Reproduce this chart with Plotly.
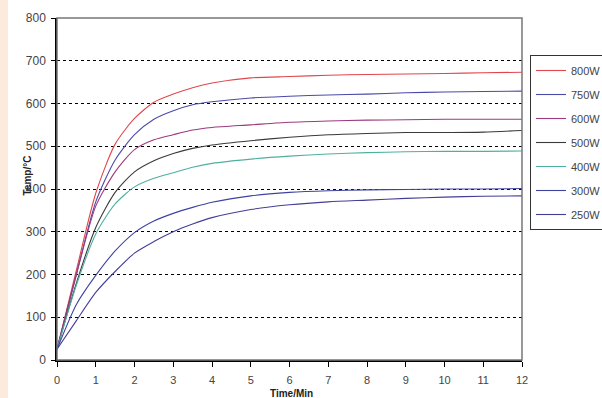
import plotly.graph_objects as go

# время, мин
time_min = [0, 0.5, 1, 1.5, 2, 2.5, 3, 3.5, 4, 5, 6, 7, 8, 9, 10, 11, 12]

# температура по мощности, °C
temp_800 = [25, 210, 390, 505, 565, 603, 622, 637, 648, 660, 663, 666, 668, 669, 670, 672, 673]
temp_750 = [25, 200, 370, 468, 527, 563, 583, 597, 604, 613, 617, 620, 622, 625, 627, 628, 629]
temp_600 = [25, 200, 360, 440, 492, 515, 527, 538, 544, 550, 556, 559, 561, 562, 563, 563, 563]
temp_500 = [25, 180, 310, 392, 440, 466, 483, 495, 503, 513, 521, 527, 530, 532, 532, 533, 537]
temp_400 = [25, 175, 295, 365, 405, 425, 438, 451, 460, 470, 477, 482, 485, 487, 488, 488, 489]
temp_300 = [25, 130, 198, 255, 298, 325, 343, 357, 369, 384, 392, 396, 398, 399, 400, 400, 401]
temp_250 = [25, 92, 158, 207, 250, 277, 300, 318, 333, 352, 363, 370, 374, 378, 381, 383, 384]

series_names = ['800W', '750W', '600W', '500W', '400W', '300W', '250W']
series_vals = [temp_800, temp_750, temp_600, temp_500, temp_400, temp_300, temp_250]
colors = ['#e0474c', '#4a4aa8', '#9b3a7e', '#3a3a3a', '#4fb0a0', '#3e43a0', '#433e96']

fig = go.Figure()

for name, vals, col in zip(series_names, series_vals, colors):
    fig.add_trace(go.Scatter(
        x=time_min, y=vals,
        mode='lines',
        line=dict(color=col, width=1.1, shape='spline', smoothing=0.7),
        name=name,
        legendgroup=name
    ))

# полоска слева и рамка области построения
fig.add_shape(type='rect', xref='paper', yref='paper',
              x0=-57 / 465, x1=-49 / 465, y0=-38 / 342, y1=1 + 18 / 342,
              fillcolor='#fcebdc', line=dict(width=0), layer='below')
fig.add_shape(type='rect', xref='paper', yref='paper',
              x0=0, x1=1, y0=0, y1=1,
              line=dict(color='#777777', width=1.5), layer='above')

fig.add_annotation(text='<b>Temp/°C</b>', xref='paper', yref='paper',
                   x=-38 / 465, y=(360 - 176) / 342, textangle=-90,
                   showarrow=False, font=dict(size=10, color='#222222'))
fig.add_annotation(text='<b>Time/Min</b>', xref='paper', yref='paper',
                   x=(291 - 57) / 465, y=-(393 - 360) / 342, yanchor='middle',
                   showarrow=False, font=dict(size=10, color='#222222'))

fig.update_layout(
    width=602, height=398,
    margin=dict(l=57, r=80, t=18, b=38, autoexpand=False),
    paper_bgcolor='white',
    plot_bgcolor='white',
    font=dict(family='Liberation Sans, Arial', size=11, color='#444444'),
    showlegend=True,
    legend=dict(
        x=(530 - 57) / 465, y=(360 - 55) / 342,
        xanchor='left', yanchor='top',
        bordercolor='#333333', borderwidth=1,
        bgcolor='white',
        font=dict(size=11, color='#444444'),
        tracegroupgap=5,
        traceorder='grouped'
    ),
    xaxis=dict(
        range=[0, 12], dtick=1,
        showgrid=False, zeroline=False,
        showline=True, linecolor='black', linewidth=1.5,
        ticks='outside', ticklen=5, tickcolor='black',
        ticklabelstandoff=4, automargin=False
    ),
    yaxis=dict(
        range=[0, 800], dtick=100,
        showgrid=True, gridcolor='black', gridwidth=1, griddash='dot',
        zeroline=False,
        showline=True, linecolor='black', linewidth=1.5,
        ticks='outside', ticklen=4, tickcolor='black',
        tickfont=dict(size=12),
        ticklabelstandoff=3, automargin=False
    )
)

# убираем стандартный отступ body, чтобы график стоял в углу окна
fig.write_html("out.html", config={'displayModeBar': False},
               post_script="document.body.style.margin='0';")
